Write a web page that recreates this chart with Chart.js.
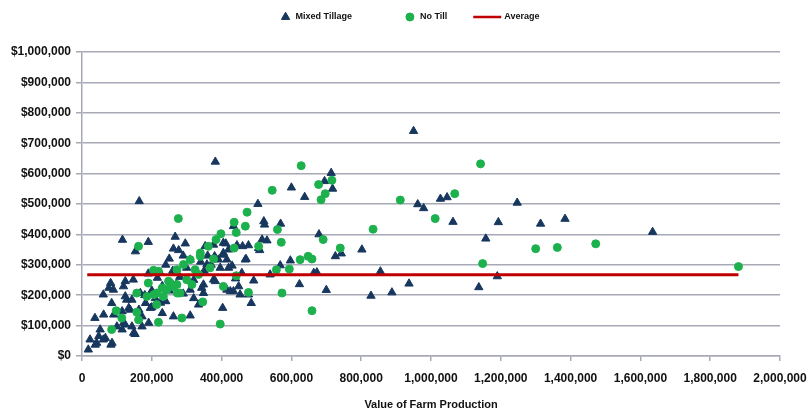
<!DOCTYPE html>
<html><head><meta charset="utf-8">
<script src="https://cdn.jsdelivr.net/npm/chart.js@4/dist/chart.umd.min.js"></script>
<style>html,body{margin:0;padding:0;background:#fff}#wrap{width:810px;height:414px}</style>
</head><body><div id="wrap"><canvas id="c" width="810" height="414"></canvas></div>
<script>
// Values in thousands of dollars (x = value of farm production, y = value)
const tillageXk = [950,802,855,828,888,937,962,979,1027,1046,1063,1137,1157,1190,1193,1247,1314,1384,1635,
382,164,714,695,718,600,638,504,521,523,569,116,190,153,267,262,277,296,516,530,509,679,726,743,597,568,539,673,664,623,700,492,485,403,470,460,412,444,477,434,380,405,415,430,458,377,348,415,434,453,477,334,310,262,152,83,23,18,37,61,82,90,119,147,190,224,216,85,128,138,119,100,52,61,42,
405,353,377,405,420,468,391,358,310,506,396,420,
77,124,124,143,167,182,196,163,134,115,91,62,124,143,172,191,115,48,67,38,86,148,230,172,
425,382,343,348,449,310,329,
240,260,280,300,320,350,370,230,250,270,290,200,210,240,180,200,225,320,340,360,290,250,440];
const tillageYk = [740,350,278,198,209,238,499,486,517,522,441,226,386,262,440,504,435,451,408,
639,509,602,575,550,554,523,500,443,432,435,382,375,344,392,353,348,370,383,380,348,400,328,337,314,298,268,275,273,236,217,248,174,158,319,361,370,364,364,427,328,333,317,297,273,251,235,218,213,202,202,169,133,130,72,37,54,21,125,202,240,218,229,251,271,273,257,174,185,152,109,97,87,54,43,
372,361,366,339,350,317,317,301,317,355,290,290,
224,246,196,185,207,174,158,152,158,147,136,136,103,97,97,109,87,65,59,37,43,76,141,130,
213,246,224,207,229,218,273,
300,280,260,290,250,280,300,230,215,235,205,215,190,180,200,160,175,190,310,330,330,320,255];
const noTillXk = [912,834,1012,1068,1142,1148,1300,1362,1472,1881,
628,545,678,716,697,685,473,276,436,468,442,560,398,384,362,339,571,506,436,162,691,740,648,659,625,594,557,573,659,477,405,442,396,346,286,219,85,114,98,157,162,214,190,205,219,248,272,291,310,324,334,339,367,377,262,243,281,214,157,186,233,300,315,
206,230,253,273,272];
const noTillYk = [513,417,452,534,632,304,353,357,369,294,
626,545,564,578,534,514,473,452,440,427,406,416,402,383,361,339,374,361,355,361,383,355,328,319,317,286,284,207,149,209,229,264,105,178,125,111,87,125,149,144,119,169,240,282,279,246,284,301,317,284,268,328,290,319,229,218,207,207,207,196,196,251,235,
202,224,240,207,235];
const averageValue = 267000;
const averageRange = [15000, 1881000];
const xTickValues = [0,200000,400000,600000,800000,1000000,1200000,1400000,1600000,1800000,2000000];
const yTickValues = [0,100000,200000,300000,400000,500000,600000,700000,800000,900000,1000000];
const seriesNames = ['Mixed Tillage', 'No Till', 'Average'];
const xTitle = 'Value of Farm Production';

const toPts = (xs, ys) => xs.map((x, i) => ({x: x * 1000, y: ys[i] * 1000}));
const NAVY = '#17375E', GREEN = '#1DB14E', RED = '#C00000', GRID = '#A7A9B6';
const FONT = "'Liberation Sans', Arial, sans-serif";

// Legend drawn from the datasets' own styles (order: Mixed Tillage, No Till, Average)
const legendOrder = [2, 1, 0];
const customLegend = {
  id: 'customLegend',
  afterDraw(chart) {
    const ctx = chart.ctx;
    ctx.save();
    ctx.font = 'bold 9px ' + FONT;
    ctx.textBaseline = 'middle';
    const items = legendOrder.map(i => chart.data.datasets[i]);
    const markW = ds => ds.pointStyle === 'line' ? 28 : 10;
    const textGap = ds => ds.pointStyle === 'line' ? 3 : 5;
    const afterGap = [53, 26, 0];
    let total = 0;
    items.forEach((ds, k) => { total += markW(ds) + textGap(ds) + ctx.measureText(ds.label).width + afterGap[k]; });
    let x = 410 - total / 2;
    const y = 17;
    items.forEach((ds, k) => {
      const w = markW(ds);
      if (ds.pointStyle === 'line') {
        ctx.strokeStyle = ds.borderColor; ctx.lineWidth = 2.5;
        ctx.beginPath(); ctx.moveTo(x, y); ctx.lineTo(x + w, y); ctx.stroke();
      } else {
        ctx.fillStyle = ds.backgroundColor; ctx.strokeStyle = ds.borderColor; ctx.lineWidth = 1;
        ctx.beginPath();
        const r = ds.pointRadius, cx = x + w / 2;
        if (ds.pointStyle === 'circle') { ctx.arc(cx, y, r, 0, Math.PI * 2); }
        else { ctx.moveTo(cx, y - r); ctx.lineTo(cx + r * 0.866, y + r / 2); ctx.lineTo(cx - r * 0.866, y + r / 2); ctx.closePath(); }
        ctx.fill(); ctx.stroke();
      }
      x += w + textGap(ds);
      ctx.fillStyle = '#111';
      ctx.fillText(ds.label, x, y);
      x += ctx.measureText(ds.label).width + afterGap[k];
    });
    ctx.restore();
  }
};

new Chart(document.getElementById('c'), {
  type: 'scatter',
  data: {
    datasets: [
      { label: seriesNames[2], type: 'line', data: averageRange.map(x => ({x, y: averageValue})),
        borderColor: RED, backgroundColor: RED, borderWidth: 3, pointRadius: 0, pointStyle: 'line', order: 0 },
      { label: seriesNames[1], data: toPts(noTillXk, noTillYk), pointStyle: 'circle', pointRadius: 4,
        backgroundColor: GREEN, borderColor: GREEN, borderWidth: 1, order: 1 },
      { label: seriesNames[0], data: toPts(tillageXk, tillageYk), pointStyle: 'triangle', pointRadius: 4.8,
        backgroundColor: NAVY, borderColor: NAVY, borderWidth: 1, order: 2 }
    ]
  },
  options: {
    responsive: false, animation: false, devicePixelRatio: 1,
    layout: { padding: { left: 0, right: 30, top: 52, bottom: 0 } },
    plugins: { tooltip: { enabled: false }, legend: { display: false } },
    scales: {
      x: {
        type: 'linear', min: 0, max: 2000000,
        afterBuildTicks: s => { s.ticks = xTickValues.map(v => ({value: v})); },
        afterFit: s => { s.height = 58; s.paddingLeft = 0; s.paddingRight = 0; },
        ticks: { color: '#111', padding: 10, maxRotation: 0, font: { family: FONT, size: 12, weight: 'bold' },
          callback: v => v.toLocaleString('en-US') },
        grid: { drawOnChartArea: false, drawTicks: true, tickLength: 5, color: GRID, lineWidth: 1.5 },
        border: { color: GRID, width: 1.5 },
        title: { display: true, text: xTitle, color: '#111', padding: { top: 4, bottom: 2 },
          font: { family: FONT, size: 11, weight: 'bold' } }
      },
      y: {
        type: 'linear', min: 0, max: 1000000,
        afterBuildTicks: s => { s.ticks = yTickValues.map(v => ({value: v})); },
        afterFit: s => { s.width = 82; s.paddingTop = 0; s.paddingBottom = 0; },
        ticks: { color: '#111', padding: 5, font: { family: FONT, size: 12, weight: 'bold' },
          callback: v => '$' + v.toLocaleString('en-US') },
        grid: { color: GRID, lineWidth: 1.5, tickLength: 6 },
        border: { color: GRID, width: 1.5 }
      }
    }
  },
  plugins: [customLegend]
});
</script></body></html>
